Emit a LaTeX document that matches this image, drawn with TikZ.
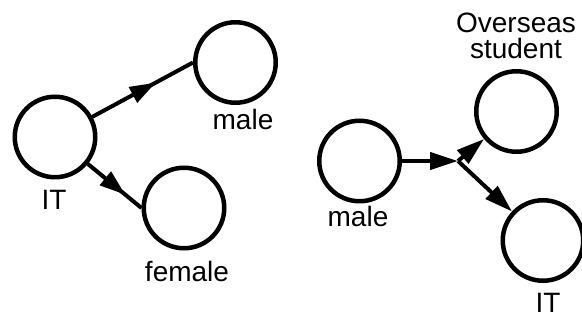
\documentclass[tikz,border=0pt]{standalone}
\usepackage{fontspec}
\setmainfont{Liberation Sans}
\usetikzlibrary{arrows.meta,decorations.markings}
\begin{document}
\begin{tikzpicture}[x=1pt,y=-1pt,
  var/.style={circle,draw,line width=4.5pt,minimum size=80.5pt,inner sep=0pt,outer sep=2.25pt},
  lbl/.style={inner sep=0pt,anchor=base,font=\fontsize{28}{26}\selectfont},
  link/.style={line width=4pt},
  midarrow/.style={decoration={markings,
      mark=at position #1 with {\arrow{Triangle[length=26pt,width=17pt]}}},
    postaction={decorate}},
  endarrow/.style={-{Triangle[length=28pt,width=17pt]}}]
\useasboundingbox (0,0) rectangle (582,320);

% left network: IT -> male, IT -> female
\node[var] (itL) at (55,137) {};
\node[var] (maleL) at (235.5,62.5) {};
\node[var] (femL) at (184,208) {};
\node[lbl] (itLt) at (54,210) {IT};
\node[lbl] (maleLt) at (243,130) {male};
\node[lbl] (femLt) at (187,282) {female};
\draw[link,midarrow=0.63] (itL) -- (maleL.west);
\draw[link,midarrow=0.7] (itL) -- (femL.west);

% right network: male -> junction -> {Overseas student, IT}
\node[var] (maleR) at (359.5,161) {};
\node[var] (overR) at (516.5,111.5) {};
\node[var] (itR) at (543,240.5) {};
\coordinate (jn) at (458,161);
\node[lbl] (maleRt) at (358,227) {male};
\node[lbl,anchor=north,align=center] (overRt) at (516,12.5) {Overseas\\student};
\node[lbl] (itRt) at (548,313) {IT};
\draw[link,endarrow] (maleR) -- (jn);
\draw[link,endarrow] (jn) -- (overR);
\draw[link,endarrow] (jn) -- (itR);
\end{tikzpicture}
\end{document}
